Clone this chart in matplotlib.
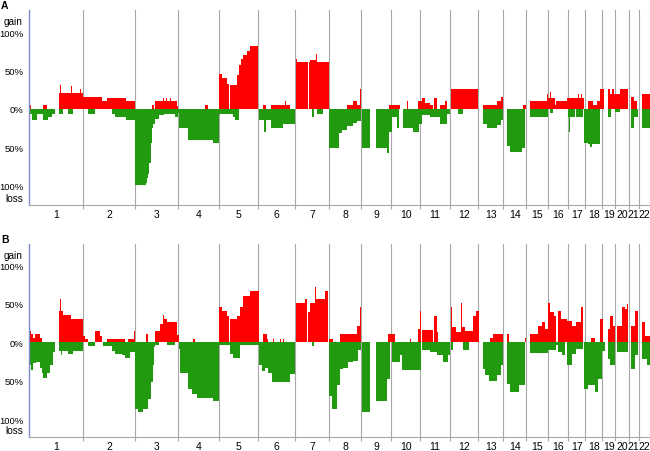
import matplotlib.pyplot as plt
import numpy as np

plt.rcParams['font.family'] = ['Liberation Sans', 'DejaVu Sans']

# chromosome sizes (Mb, hg19)
chrom_names = [str(i) for i in range(1, 23)]
chrom_len = [249.3, 243.2, 198.0, 191.2, 180.9, 171.1, 159.1, 146.4, 141.2, 135.5, 135.0,
             133.9, 115.2, 107.3, 102.5, 90.4, 81.2, 78.1, 59.1, 63.0, 48.1, 51.3]

# segments: (start Mb, end Mb, % of cases), genome-wide coordinates
gain_a = [(0, 8, 5), (66, 82, 5), (141, 249, 21), (143, 148, 31), (196, 199, 30), (222, 225, 26), (236, 239, 26),
          (249, 337, 16), (337, 363, 10), (363, 450, 15), (374, 378, 26), (450, 492, 10),
          (569, 581, 5), (584, 685, 10), (620, 624, 15), (637, 641, 15), (655, 659, 15), (685, 692, 4),
          (816, 832, 5),
          (883, 894, 46), (894, 917, 41), (917, 929, 33), (932, 963, 31), (963, 972, 44), (972, 983, 57),
          (983, 994, 65), (994, 1010, 70), (1010, 1025, 76), (1025, 1063, 82),
          (1087, 1099, 5), (1125, 1211, 5), (1187, 1190, 10),
          (1237, 1244, 66), (1244, 1294, 61), (1297, 1390, 61), (1303, 1330, 64), (1333, 1337, 72),
          (1473, 1504, 5), (1504, 1523, 10), (1523, 1538, 5), (1536, 1539, 26),
          (1670, 1721, 5), (1752, 1756, 10),
          (1806, 1825, 10), (1825, 1836, 15), (1836, 1860, 8), (1860, 1875, 5), (1878, 1894, 15),
          (1906, 1929, 5), (1929, 1940, 10),
          (1956, 2084, 26),
          (2107, 2169, 5), (2169, 2188, 10), (2188, 2200, 16),
          (2293, 2306, 5),
          (2324, 2401, 10), (2401, 2409, 20),
          (2409, 2440, 15), (2415, 2420, 22), (2440, 2447, 5), (2447, 2497, 10),
          (2497, 2575, 14), (2532, 2535, 30), (2547, 2550, 20), (2563, 2566, 20),
          (2594, 2617, 10), (2617, 2633, 5), (2633, 2651, 10), (2651, 2668, 26),
          (2684, 2695, 26), (2695, 2705, 20), (2705, 2715, 26),
          (2715, 2741, 20), (2741, 2781, 26),
          (2792, 2806, 16), (2806, 2821, 10),
          (2843, 2881, 20)]

loss_a = [(0, 120, 6), (12, 35, 15), (63, 87, 15), (90, 105, 10), (141, 156, 6), (182, 206, 6),
          (275, 306, 6), (383, 399, 6), (399, 450, 11), (450, 492, 15),
          (492, 541, 100), (541, 546, 97), (546, 554, 90), (554, 557, 85), (557, 564, 70), (564, 569, 45),
          (569, 577, 25), (577, 585, 19), (585, 605, 13), (605, 625, 8), (625, 677, 7), (677, 690, 10),
          (690, 696, 5),
          (696, 739, 25), (739, 855, 40), (855, 881, 45),
          (883, 948, 6), (948, 955, 10), (955, 972, 15),
          (1065, 1125, 15), (1090, 1099, 30), (1125, 1180, 25), (1180, 1233, 20),
          (1311, 1322, 10), (1334, 1365, 6),
          (1393, 1439, 51), (1439, 1450, 31), (1450, 1473, 27), (1473, 1504, 22), (1504, 1523, 18),
          (1523, 1539, 16),
          (1543, 1582, 51), (1609, 1659, 51), (1659, 1670, 57), (1670, 1682, 30),
          (1682, 1718, 10), (1706, 1718, 25), (1733, 1783, 25), (1783, 1810, 30), (1810, 1821, 20),
          (1821, 1860, 8), (1860, 1906, 10), (1906, 1940, 20), (1940, 1951, 6),
          (1991, 2014, 6),
          (2104, 2123, 20), (2123, 2169, 25), (2169, 2192, 21), (2192, 2200, 14),
          (2218, 2231, 49), (2231, 2285, 56), (2285, 2303, 51),
          (2324, 2409, 10),
          (2416, 2432, 5),
          (2501, 2532, 10), (2504, 2508, 30), (2540, 2571, 10),
          (2576, 2594, 45), (2594, 2651, 46), (2602, 2610, 50),
          (2684, 2700, 10),
          (2720, 2740, 4),
          (2792, 2806, 25), (2806, 2827, 10),
          (2843, 2881, 25)]

gain_b = [(0, 8, 15), (8, 20, 11), (20, 28, 6), (28, 51, 11), (51, 59, 6),
          (141, 160, 41), (146, 150, 56), (160, 194, 36), (194, 249, 31), (198, 201, 36),
          (249, 260, 9), (260, 275, 4), (306, 329, 15), (329, 337, 9), (360, 446, 5), (461, 492, 5),
          (489, 492, 15),
          (545, 550, 11), (584, 607, 15), (607, 620, 24), (620, 626, 36), (626, 639, 31), (639, 685, 26),
          (685, 696, 10),
          (762, 770, 4),
          (883, 894, 46), (894, 917, 41), (917, 929, 35), (932, 963, 31), (963, 979, 35), (979, 994, 46),
          (994, 1025, 61), (1025, 1065, 67),
          (1087, 1102, 11), (1102, 1110, 4), (1133, 1136, 5), (1164, 1167, 5), (1179, 1182, 5),
          (1237, 1280, 51), (1280, 1291, 56), (1296, 1303, 39), (1303, 1326, 51), (1326, 1331, 72),
          (1331, 1373, 56), (1373, 1388, 67),
          (1393, 1411, 5), (1442, 1523, 11), (1523, 1536, 22), (1536, 1540, 46),
          (1666, 1698, 11), (1752, 1755, 5), (1767, 1770, 5),
          (1806, 1816, 17), (1816, 1820, 41), (1821, 1875, 16), (1878, 1891, 35), (1891, 1899, 13),
          (1956, 1963, 46), (1963, 1983, 20), (1983, 2002, 13), (2002, 2010, 51), (2010, 2022, 20),
          (2022, 2061, 15), (2061, 2072, 35), (2072, 2087, 41),
          (2138, 2154, 6), (2154, 2200, 11),
          (2219, 2225, 11), (2300, 2308, 6),
          (2324, 2362, 11), (2362, 2378, 22), (2378, 2393, 26), (2393, 2409, 17),
          (2409, 2416, 51), (2416, 2435, 39), (2435, 2444, 35), (2455, 2470, 41), (2470, 2497, 30),
          (2497, 2517, 28), (2517, 2540, 22), (2540, 2563, 26), (2563, 2571, 46),
          (2609, 2625, 6), (2648, 2664, 30),
          (2684, 2695, 17), (2695, 2710, 35), (2710, 2718, 22),
          (2726, 2749, 22), (2749, 2764, 46), (2764, 2775, 43), (2775, 2781, 50),
          (2792, 2811, 22), (2811, 2826, 41),
          (2843, 2857, 26), (2857, 2881, 9)]

loss_b = [(0, 8, 30), (8, 20, 36), (20, 33, 27), (33, 51, 26), (51, 59, 33), (59, 66, 40), (66, 82, 46),
          (82, 97, 40), (97, 113, 30), (113, 121, 13),
          (141, 249, 11), (148, 152, 17), (182, 206, 15),
          (275, 306, 5), (345, 383, 5), (383, 399, 11), (399, 430, 15), (430, 445, 17), (445, 469, 20),
          (469, 492, 13),
          (492, 507, 87), (507, 530, 91), (530, 553, 87), (553, 564, 74), (564, 573, 52), (573, 580, 30),
          (580, 584, 6), (584, 604, 4), (638, 677, 4),
          (696, 700, 9), (700, 739, 40), (739, 755, 61), (755, 778, 67), (778, 855, 72), (855, 881, 76),
          (883, 932, 4), (932, 948, 15), (948, 979, 20), (979, 1065, 4),
          (1065, 1079, 30), (1079, 1095, 37), (1095, 1110, 33), (1110, 1126, 40), (1126, 1211, 51),
          (1211, 1234, 41),
          (1311, 1322, 5),
          (1393, 1404, 70), (1404, 1427, 87), (1427, 1442, 56), (1442, 1458, 35), (1458, 1481, 33),
          (1481, 1504, 25), (1504, 1528, 24), (1528, 1539, 10),
          (1543, 1582, 91), (1609, 1659, 76), (1659, 1674, 48),
          (1682, 1721, 26), (1721, 1729, 17), (1729, 1817, 36),
          (1821, 1860, 10), (1860, 1891, 13), (1891, 1922, 17), (1922, 1945, 26), (1945, 1953, 17),
          (1956, 1968, 10), (2014, 2042, 10),
          (2104, 2115, 35), (2115, 2135, 43), (2135, 2169, 50), (2169, 2188, 43), (2188, 2197, 30),
          (2218, 2231, 54), (2231, 2274, 65), (2274, 2303, 56),
          (2324, 2409, 14),
          (2409, 2444, 10), (2444, 2455, 4), (2455, 2471, 13), (2471, 2486, 17),
          (2497, 2517, 30), (2517, 2540, 15), (2540, 2571, 9),
          (2576, 2594, 61), (2594, 2625, 56), (2625, 2641, 65), (2641, 2656, 48),
          (2656, 2672, 11), (2684, 2695, 22), (2695, 2718, 30),
          (2726, 2781, 13),
          (2792, 2811, 35), (2811, 2826, 17),
          (2843, 2865, 22), (2865, 2881, 30)]

red = '#ff0000'
green = '#229a10'
grey = '#a8a8a8'

bounds = np.concatenate([[0], np.cumsum(chrom_len)])
centers = (bounds[:-1] + bounds[1:]) / 2

fig = plt.figure(figsize=(6.5, 4.52), dpi=100)
W, H = 650, 452


def panel(rect_px, gains, losses, ylim, letter):
    x0, top, x1, bot = rect_px
    ax = fig.add_axes([x0 / W, 1 - bot / H, (x1 - x0) / W, (bot - top) / H])
    g = np.array(gains, dtype=float)
    l = np.array(losses, dtype=float)
    ax.bar(g[:, 0], g[:, 2], width=g[:, 1] - g[:, 0], align='edge', color=red, linewidth=0, zorder=2)
    ax.bar(l[:, 0], -l[:, 2], width=l[:, 1] - l[:, 0], align='edge', color=green, linewidth=0, zorder=2)
    for b in bounds[1:-1]:
        ax.axvline(b, color=grey, lw=0.8, zorder=1)
    ax.set_xlim(0, bounds[-1])
    ax.set_ylim(*ylim)
    ax.set_xticks(bounds[1:-1])
    ax.set_xticklabels([])
    ax.set_xticks(centers, minor=True)
    ax.set_xticklabels(chrom_names, minor=True)
    ax.tick_params(axis='x', which='major', length=3, color=grey, width=0.8)
    ax.tick_params(axis='x', which='minor', length=0, pad=3, labelsize=7.5)
    ax.set_yticks([-100, -50, 0, 50, 100])
    ax.set_yticklabels(['100%', '50%', '0%', '50%', '100%'])
    ax.tick_params(axis='y', length=0, pad=4, labelsize=6.8)
    for s in ['top', 'right']:
        ax.spines[s].set_visible(False)
    ax.spines['bottom'].set_color(grey)
    ax.spines['bottom'].set_linewidth(0.8)
    ax.spines['left'].set_color('#7d8cc8')
    ax.spines['left'].set_linewidth(1.0)
    fig.text(23 / W, 1 - (top + 11) / H, 'gain', ha='right', va='center', fontsize=7.2)
    fig.text(23 / W, 1 - (bot - 7) / H, 'loss', ha='right', va='center', fontsize=7.2)
    fig.text(1 / W, 1 - (top - 5) / H, letter, ha='left', va='center', fontsize=7.5, fontweight='bold')
    return ax


panel((29, 11, 650, 206), gain_a, loss_a, (-125.5, 129.4), 'A')
panel((29, 245, 650, 438), gain_b, loss_b, (-123, 128), 'B')

fig.savefig('out.png', dpi=100)
